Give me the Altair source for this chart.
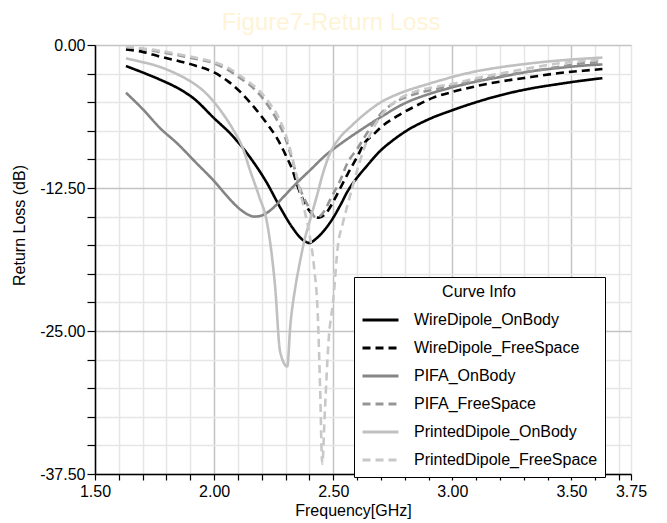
import altair as alt
import pandas as pd

series_names = ["WireDipole_OnBody", "WireDipole_FreeSpace", "PIFA_OnBody",
                "PIFA_FreeSpace", "PrintedDipole_OnBody", "PrintedDipole_FreeSpace"]
series_colors = ["#000000", "#000000", "#858585", "#969696", "#c0c0c0", "#c8c8c8"]
series_dash = [[1, 0], [8, 5], [1, 0], [8, 5], [1, 0], [8, 5]]

f_wire_on = [1.63, 1.70, 1.77, 1.85, 1.91, 2.00, 2.08, 2.15, 2.22, 2.28, 2.33, 2.37, 2.40, 2.43,
             2.47, 2.50, 2.53, 2.56, 2.60, 2.64, 2.70, 2.74, 2.80, 2.90, 3.00, 3.10, 3.20, 3.33, 3.45,
             3.55, 3.63]
db_wire_on = [-1.84, -2.4, -3.0, -3.8, -4.6, -6.4, -8.0, -9.8, -12.0, -14.3, -16.0, -17.0, -17.3, -16.9,
              -16.0, -15.1, -14.0, -12.8, -11.6, -10.6, -9.2, -8.5, -7.6, -6.5, -5.7, -5.0, -4.4, -3.8, -3.4,
              -3.1, -2.9]

f_wire_fs = [1.63, 1.70, 1.77, 1.85, 1.92, 2.00, 2.06, 2.11, 2.15, 2.19, 2.23, 2.26, 2.30, 2.33, 2.35,
             2.39, 2.42, 2.44, 2.47, 2.50, 2.53, 2.56, 2.60, 2.63, 2.67, 2.70, 2.77, 2.84, 2.92, 3.00,
             3.10, 3.20, 3.33, 3.45, 3.55, 3.63]
db_wire_fs = [-0.38, -0.6, -1.0, -1.4, -1.8, -2.4, -3.2, -4.1, -5.0, -6.0, -7.1, -8.0, -9.6, -11.0, -12.3,
              -14.2, -14.9, -15.1, -14.7, -13.7, -12.5, -11.3, -9.8, -8.6, -7.8, -7.2, -6.2, -5.4, -4.6, -4.1,
              -3.6, -3.2, -2.8, -2.45, -2.25, -2.1]

f_pifa_on = [1.63, 1.70, 1.77, 1.85, 1.92, 2.00, 2.05, 2.10, 2.14, 2.17, 2.20, 2.25, 2.29, 2.35, 2.40,
             2.47, 2.54, 2.61, 2.70, 2.80, 2.90, 3.00, 3.10, 3.20, 3.33, 3.45, 3.55, 3.63]
db_pifa_on = [-4.17, -5.6, -7.2, -8.7, -10.2, -11.9, -13.1, -14.2, -14.8, -15.0, -14.9, -14.2, -13.3, -12.0,
              -11.0, -9.6, -8.5, -7.5, -6.3, -5.1, -4.3, -3.7, -3.2, -2.8, -2.3, -2.0, -1.8, -1.7]

f_pifa_fs = [1.63, 1.70, 1.77, 1.85, 1.92, 2.00, 2.06, 2.11, 2.15, 2.19, 2.23, 2.27, 2.30, 2.33, 2.36,
             2.39, 2.43, 2.46, 2.49, 2.53, 2.56, 2.60, 2.63, 2.67, 2.70, 2.77, 2.84, 2.92, 3.00, 3.10,
             3.20, 3.33, 3.45, 3.55, 3.63]
db_pifa_fs = [-0.2, -0.35, -0.6, -0.9, -1.2, -1.6, -2.2, -2.9, -3.5, -4.3, -5.4, -6.8, -8.2, -10.2, -12.5,
              -13.9, -15.1, -14.6, -13.4, -11.8, -10.3, -9.1, -8.1, -6.8, -6.0, -4.9, -4.3, -3.9, -3.55, -3.1,
              -2.7, -2.3, -1.9, -1.6, -1.5]

f_print_on = [1.63, 1.70, 1.77, 1.85, 1.91, 1.96, 2.00, 2.04, 2.08, 2.12, 2.15, 2.19, 2.22, 2.24, 2.256,
              2.277, 2.307, 2.32, 2.34, 2.36, 2.38, 2.40, 2.43, 2.46, 2.49, 2.52, 2.58, 2.64, 2.70, 2.77,
              2.90, 3.00, 3.10, 3.20, 3.33, 3.45, 3.55, 3.63]
db_print_on = [-1.17, -1.5, -1.9, -2.6, -3.3, -4.1, -5.0, -6.1, -7.4, -9.0, -10.9, -13.3, -15.3, -18.0, -21.1,
               -26.8, -28.1, -24.5, -21.3, -19.0, -17.0, -15.5, -13.3, -11.0, -9.3, -8.3, -7.0, -5.9, -5.0, -4.3,
               -3.4, -2.8, -2.3, -1.95, -1.6, -1.35, -1.2, -1.1]

f_print_fs = [1.63, 1.70, 1.77, 1.85, 1.92, 2.00, 2.06, 2.11, 2.15, 2.19, 2.23, 2.27, 2.30, 2.33, 2.35,
              2.38, 2.40, 2.42, 2.435, 2.445, 2.454, 2.465, 2.48, 2.50, 2.52, 2.54, 2.56, 2.60, 2.63, 2.66,
              2.70, 2.77, 2.84, 2.92, 3.00, 3.10, 3.20, 3.33, 3.45, 3.55, 3.63]
db_print_fs = [-0.15, -0.3, -0.5, -0.8, -1.1, -1.5, -2.0, -2.7, -3.3, -4.0, -5.0, -6.3, -7.8, -10.0, -11.8,
               -14.5, -16.5, -19.5, -23.5, -30.0, -36.6, -32.0, -26.0, -22.3, -17.5, -15.6, -14.0, -11.0, -9.0,
               -7.6, -6.2, -4.8, -4.1, -3.7, -3.4, -2.9, -2.5, -2.0, -1.6, -1.4, -1.3]

x_ticks = [1.5, 1.6, 1.7, 1.8, 1.9, 2.0, 2.1, 2.2, 2.3, 2.4, 2.5, 2.6, 2.7, 2.8, 2.9, 3.0,
           3.1, 3.2, 3.3, 3.4, 3.5, 3.6, 3.7, 3.75]
y_ticks = [0, -2.5, -5, -7.5, -10, -12.5, -15, -17.5, -20, -22.5, -25, -27.5, -30, -32.5, -35, -37.5]

freqs = [f_wire_on, f_wire_fs, f_pifa_on, f_pifa_fs, f_print_on, f_print_fs]
dbs = [db_wire_on, db_wire_fs, db_pifa_on, db_pifa_fs, db_print_on, db_print_fs]
rows = []
for name, fl, dl in zip(series_names, freqs, dbs):
    for f, d in zip(fl, dl):
        rows.append({"Curve": name, "freq": f, "db": d})
df = pd.DataFrame(rows)

FONT = "Liberation Sans"

x_major = "abs(datum.value*2 - round(datum.value*2)) < 0.001"
y_major = "abs(datum.value/12.5 - round(datum.value/12.5)) < 0.001"

x_axis = alt.Axis(
    values=x_ticks, title="Frequency[GHz]", grid=True,
    gridColor=alt.condition(x_major, alt.value("#c4c4c4"), alt.value("#e6e6e6")),
    gridWidth=1.5,
    labelExpr=f"({x_major}) || abs(datum.value-3.75) < 0.001 ? format(datum.value, '.2f') : ''",
    labelFont=FONT, labelFontSize=16, labelColor="#000", labelPadding=3, labelFlush=False,
    labelOverlap=False,
    tickColor="#000", tickSize=6, tickWidth=1.2,
    domainColor="#000", domainWidth=1.5,
    titleFont=FONT, titleFontSize=16, titleFontWeight="normal", titleColor="#000",
    titleX=258, titleY=36, titleBaseline="middle",
)
y_axis = alt.Axis(
    values=y_ticks, title="Return Loss (dB)", grid=True,
    gridColor=alt.condition(y_major, alt.value("#c4c4c4"), alt.value("#e6e6e6")),
    gridWidth=1.5,
    labelExpr=f"{y_major} ? replace(format(datum.value, '.2f'), '\u2212', '-') : ''",
    labelFont=FONT, labelFontSize=16, labelColor="#000", labelPadding=2, labelFlush=False,
    labelOverlap=False,
    tickColor="#000", tickSize=8, tickWidth=1.2,
    domainColor="#000", domainWidth=1.5,
    titleFont=FONT, titleFontSize=16, titleFontWeight="normal", titleColor="#000",
    titleX=-76, titleY=180, titleAngle=-90, titleAlign="center", titleBaseline="middle",
)

legend = alt.Legend(
    title="Curve Info", orient="none", legendX=259, legendY=232,
    fillColor="#ffffff", strokeColor="#000000", padding=7,
    titleFont=FONT, titleFontSize=16, titleFontWeight="normal", titleColor="#000",
    titleAnchor="middle", titlePadding=10,
    labelFont=FONT, labelFontSize=16, labelColor="#000", labelOffset=14, labelLimit=260,
    symbolType="stroke", symbolSize=1296, symbolStrokeWidth=3, clipHeight=20, rowPadding=8,
)

chart = alt.Chart(df).mark_line(strokeWidth=2.6, interpolate="monotone").encode(
    x=alt.X("freq:Q", scale=alt.Scale(domain=[1.5, 3.75], nice=False, zero=False), axis=x_axis),
    y=alt.Y("db:Q", scale=alt.Scale(domain=[-37.5, 0], nice=False, zero=False), axis=y_axis),
    color=alt.Color("Curve:N", scale=alt.Scale(domain=series_names, range=series_colors), legend=legend),
    strokeDash=alt.StrokeDash("Curve:N", scale=alt.Scale(domain=series_names, range=series_dash), legend=legend),
    order=alt.Order("freq:Q"),
).properties(
    width=536, height=429,
    title=alt.TitleParams("Figure7-Return Loss", color="#fff3d6", fontSize=24, font=FONT,
                          fontWeight="normal", anchor="middle", dx=-32, offset=2),
    autosize=alt.AutoSizeParams(type="none"),
    padding={"left": 95, "top": 45, "right": 36, "bottom": 49},
).configure_view(stroke="#000000", strokeWidth=1.5).configure(background="#ffffff")

chart.save("out.html", embed_options={"renderer": "svg", "actions": False})
